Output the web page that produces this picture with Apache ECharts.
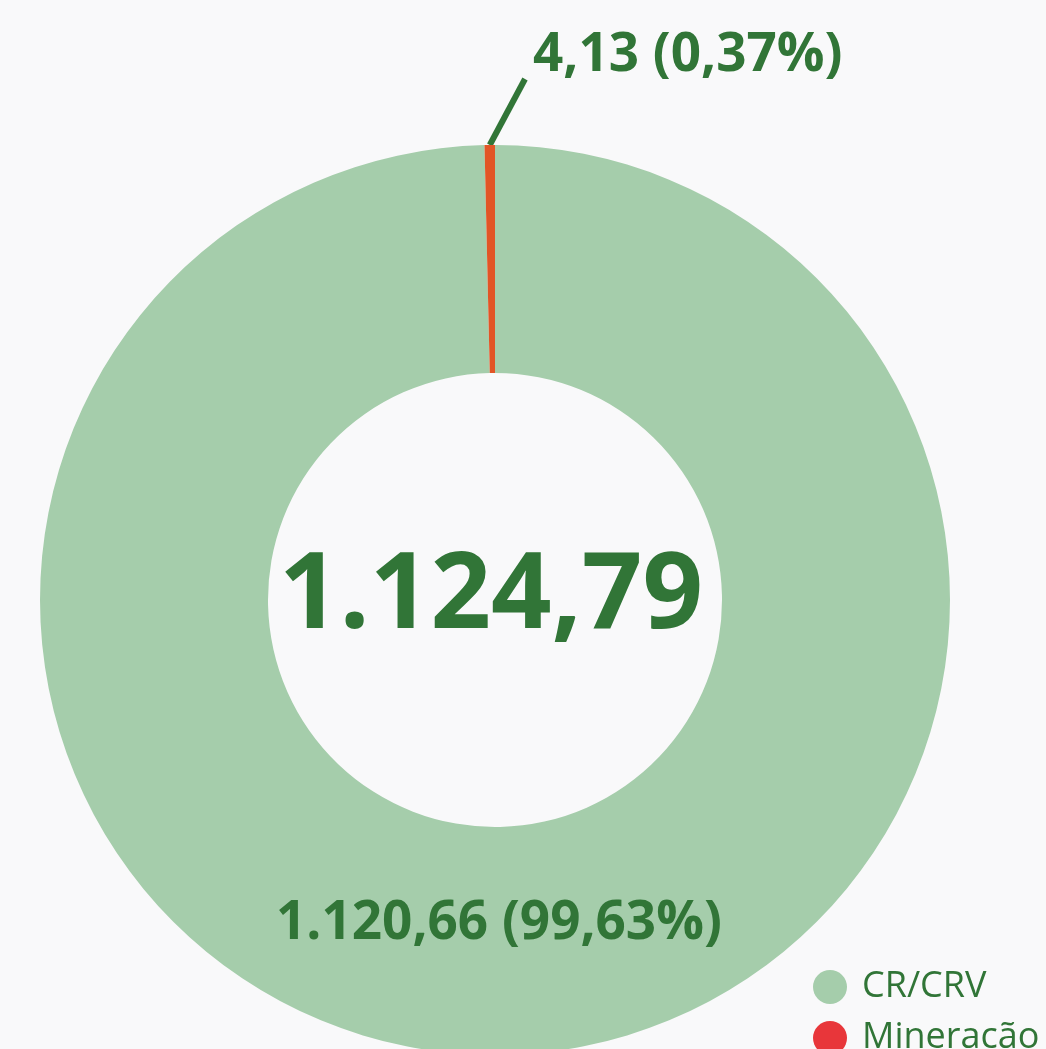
<!DOCTYPE html>
<html>
<head>
<meta charset="utf-8">
<script src="https://cdn.jsdelivr.net/npm/echarts@6/dist/echarts.min.js"></script>
<style>
  html, body { margin: 0; padding: 0; background: #f9f9fa; }
  #chart { width: 1046px; height: 1049px; }
</style>
</head>
<body>
<div id="chart"></div>
<script>
// dados
const categories = ['CR/CRV', 'Mineracão'];
const values = [1120.66, 4.13];
const labels = ['1.120,66 (99,63%)', '4,13 (0,37%)'];
const totalLabel = '1.124,79';

const sliceColors = ['#a5cdab', '#e25526'];
const legendColors = ['#a5cdab', '#e8363a'];
const textGreen = '#317537';

const chart = echarts.init(document.getElementById('chart'));

const option = {
    backgroundColor: '#f9f9fa',
    animation: false,
    title: {
        text: totalLabel,
        left: 486,
        top: 593,
        textAlign: 'center',
        textVerticalAlign: 'middle',
        textStyle: {
            fontFamily: 'Open Sans',
            fontWeight: 'bold',
            fontSize: 106,
            color: textGreen
        }
    },
    legend: {
        orient: 'vertical',
        left: 808,
        top: 964,
        height: 150,
        icon: 'circle',
        itemWidth: 34,
        itemHeight: 34,
        itemGap: 15,
        textStyle: {
            fontFamily: 'Open Sans',
            fontSize: 36,
            color: textGreen,
            padding: [0, 0, 0, 10]
        },
        data: categories.map((c, i) => ({
            name: c,
            itemStyle: { color: legendColors[i] }
        }))
    },
    series: [
        {
            type: 'pie',
            center: [495, 600],
            radius: [227, 455],
            startAngle: 90,
            clockwise: true,
            avoidLabelOverlap: false,
            emphasis: { disabled: true },
            data: categories.map((c, i) => ({
                name: c,
                value: values[i],
                itemStyle: { color: sliceColors[i] },
                label: i === 0
                    ? { position: 'inside', offset: [0, -20] }
                    : { position: 'outside' },
                labelLine: { show: i === 1 }
            })),
            label: {
                // a etiqueta pequena leva uma linha vazia por baixo para a linha guia acabar abaixo do texto
                formatter: p => p.dataIndex === 0
                    ? '{a|' + labels[0] + '}'
                    : '{s|}{a|' + labels[1] + '}\n{b|}',
                color: textGreen,
                rich: {
                    a: {
                        fontFamily: 'Open Sans',
                        fontWeight: 'bold',
                        fontSize: 53,
                        lineHeight: 53,
                        color: textGreen
                    },
                    s: { width: 8, height: 53 },
                    b: { height: 46, lineHeight: 46 }
                }
            },
            labelLine: {
                length: 60,
                length2: 0,
                lineStyle: { color: textGreen, width: 6 }
            },
            labelLayout: function (params) {
                if (params.dataIndex === 1) {
                    return { x: 525, y: 79, align: 'left', verticalAlign: 'middle' };
                }
            }
        }
    ]
};

chart.setOption(option);
window.addEventListener('resize', () => chart.resize());
</script>
</body>
</html>
